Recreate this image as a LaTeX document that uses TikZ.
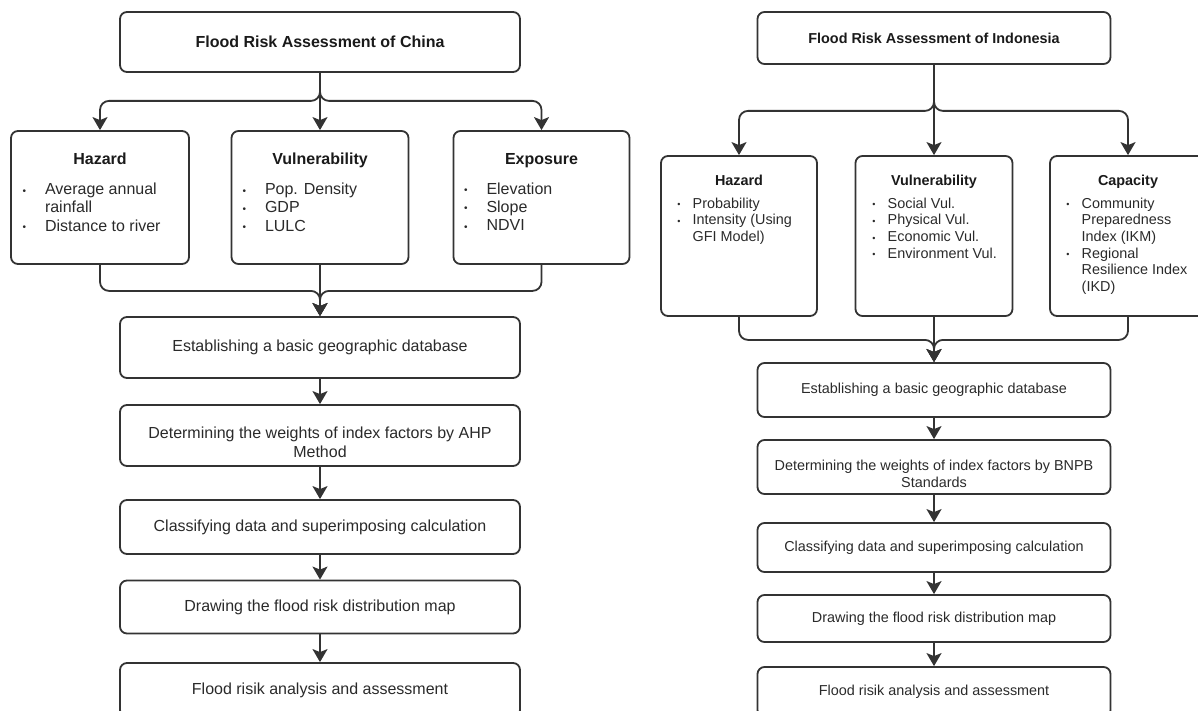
\documentclass[tikz,border=0pt]{standalone}
\usepackage{fontspec}
\setmainfont{Liberation Sans}
\usetikzlibrary{arrows.meta}
\definecolor{lc}{HTML}{333333}
\definecolor{tx}{HTML}{2A2A2A}
\definecolor{hd}{HTML}{1A1A1A}
\newcommand\catL[2]{\parbox[c][133pt][t]{162pt}{\fontsize{16}{18.4}\selectfont\color{tx}\vspace*{22pt}{\centering\bfseries\color{hd}#1\par}\vspace{11.6pt}\raggedright#2}}
\newcommand\itL[1]{\par\noindent\hangindent=26pt\hangafter=1\hspace*{3.55pt}\makebox[22.45pt][l]{\raisebox{0.5pt}{\fontsize{10}{10}\selectfont •}}#1\par}
\newcommand\catR[2]{\parbox[c][160pt][t]{140pt}{\fontsize{14.4}{16.6}\selectfont\color{tx}\vspace*{18.8pt}{\centering\bfseries\color{hd}#1\par}\vspace{6.4pt}\raggedright#2}}
\newcommand\itR[1]{\par\noindent\hangindent=23.7pt\hangafter=1\hspace*{8.4pt}\makebox[15.3pt][l]{\raisebox{0.4pt}{\fontsize{9}{9}\selectfont •}}#1\par}
\begin{document}
\begin{tikzpicture}[x=1pt,y=-1pt,
  box/.style={draw=lc, line width=1.8pt, rounded corners=7pt, inner sep=0pt, text=tx, align=center},
  fL/.style={font=\fontsize{16}{19}\selectfont},
  fR/.style={font=\fontsize{14.4}{16.6}\selectfont},
  arr/.style={draw=lc, line width=1.8pt, rounded corners=9pt, -{Stealth[width=15pt,length=13pt,inset=3pt]}}]
\useasboundingbox (0,0) rectangle (1198,711);
\clip (0,0) rectangle (1198,711);
% ---------------- China ----------------
\node[box, minimum width=400pt, minimum height=60pt, text=hd, font=\fontsize{16}{19}\selectfont\bfseries] (topL) at (320,42) {Flood Risk Assessment of China};
\node[box, minimum width=178pt, minimum height=133pt] (hazL) at (100,197.5) {\catL{Hazard}{\itL{Average annual\newline rainfall}\itL{Distance to river}}};
\node[box, minimum width=177pt, minimum height=133pt] (vulL) at (320,197.5) {\catL{Vulnerability}{\itL{Pop. Density}\itL{GDP}\itL{LULC}}};
\node[box, minimum width=176pt, minimum height=133pt] (expL) at (541.5,197.5) {\catL{Exposure}{\itL{Elevation}\itL{Slope}\itL{NDVI}}};
\node[box, fL, minimum width=400pt, minimum height=61pt] (estL) at (320,347.5) {Establishing a basic geographic database};
\node[box, fL, minimum width=400pt, minimum height=61pt] (detL) at (320,435.5) {\parbox[c][44.4pt][b]{390pt}{\centering Determining the weights of index factors by AHP\\ Method}};
\node[box, fL, minimum width=400pt, minimum height=54pt] (claL) at (320,527) {Classifying data and superimposing calculation};
\node[box, fL, minimum width=400pt, minimum height=53pt] (draL) at (320,607) {Drawing the flood risk distribution map};
\node[box, fL, minimum width=400pt, minimum height=54pt] (floL) at (320,690) {Flood risik analysis and assessment};
\draw[arr] (topL.south) -- ++(0,28) -| (hazL.north);
\draw[arr] (topL.south) -- (vulL.north);
\draw[arr] (topL.south) -- ++(0,28) -| (expL.north);
\draw[arr] (hazL.south) -- ++(0,26) -| (estL.north);
\draw[arr] (vulL.south) -- (estL.north);
\draw[arr] (expL.south) -- ++(0,26) -| (estL.north);
\draw[arr] (estL) -- (detL);
\draw[arr] (detL) -- (claL);
\draw[arr] (claL) -- (draL);
\draw[arr] (draL) -- (floL);
% ---------------- Indonesia ----------------
\node[box, minimum width=353pt, minimum height=52pt, text=hd, font=\fontsize{14.4}{16.6}\selectfont\bfseries] (topR) at (934,38) {Flood Risk Assessment of Indonesia};
\node[box, minimum width=156pt, minimum height=160pt] (hazR) at (739,236) {\catR{Hazard}{\itR{Probability}\itR{Intensity (Using\newline GFI Model)}}};
\node[box, minimum width=157pt, minimum height=160pt] (vulR) at (934,236) {\catR{Vulnerability}{\itR{Social Vul.}\itR{Physical Vul.}\itR{Economic Vul.}\itR{Environment Vul.}}};
\node[box, minimum width=156pt, minimum height=160pt] (capR) at (1128,236) {\catR{Capacity}{\itR{Community\newline Preparedness\newline Index (IKM)}\itR{Regional\newline Resilience Index\newline (IKD)}}};
\node[box, fR, minimum width=353pt, minimum height=54pt] (estR) at (934,390) {Establishing a basic geographic database};
\node[box, fR, minimum width=353pt, minimum height=54pt] (detR) at (934,467) {\parbox[c][40.4pt][b]{345pt}{\centering Determining the weights of index factors by BNPB\\ Standards}};
\node[box, fR, minimum width=353pt, minimum height=49pt] (claR) at (934,547.5) {Classifying data and superimposing calculation};
\node[box, fR, minimum width=353pt, minimum height=47pt] (draR) at (934,618.5) {Drawing the flood risk distribution map};
\node[box, fR, minimum width=353pt, minimum height=50pt] (floR) at (934,692) {Flood risik analysis and assessment};
\draw[arr] (topR.south) -- ++(0,46) -| (hazR.north);
\draw[arr] (topR.south) -- (vulR.north);
\draw[arr] (topR.south) -- ++(0,46) -| (capR.north);
\draw[arr] (hazR.south) -- ++(0,23) -| (estR.north);
\draw[arr] (vulR.south) -- (estR.north);
\draw[arr] (capR.south) -- ++(0,23) -| (estR.north);
\draw[arr] (estR) -- (detR);
\draw[arr] (detR) -- (claR);
\draw[arr] (claR) -- (draR);
\draw[arr] (draR) -- (floR);
\end{tikzpicture}
\end{document}
